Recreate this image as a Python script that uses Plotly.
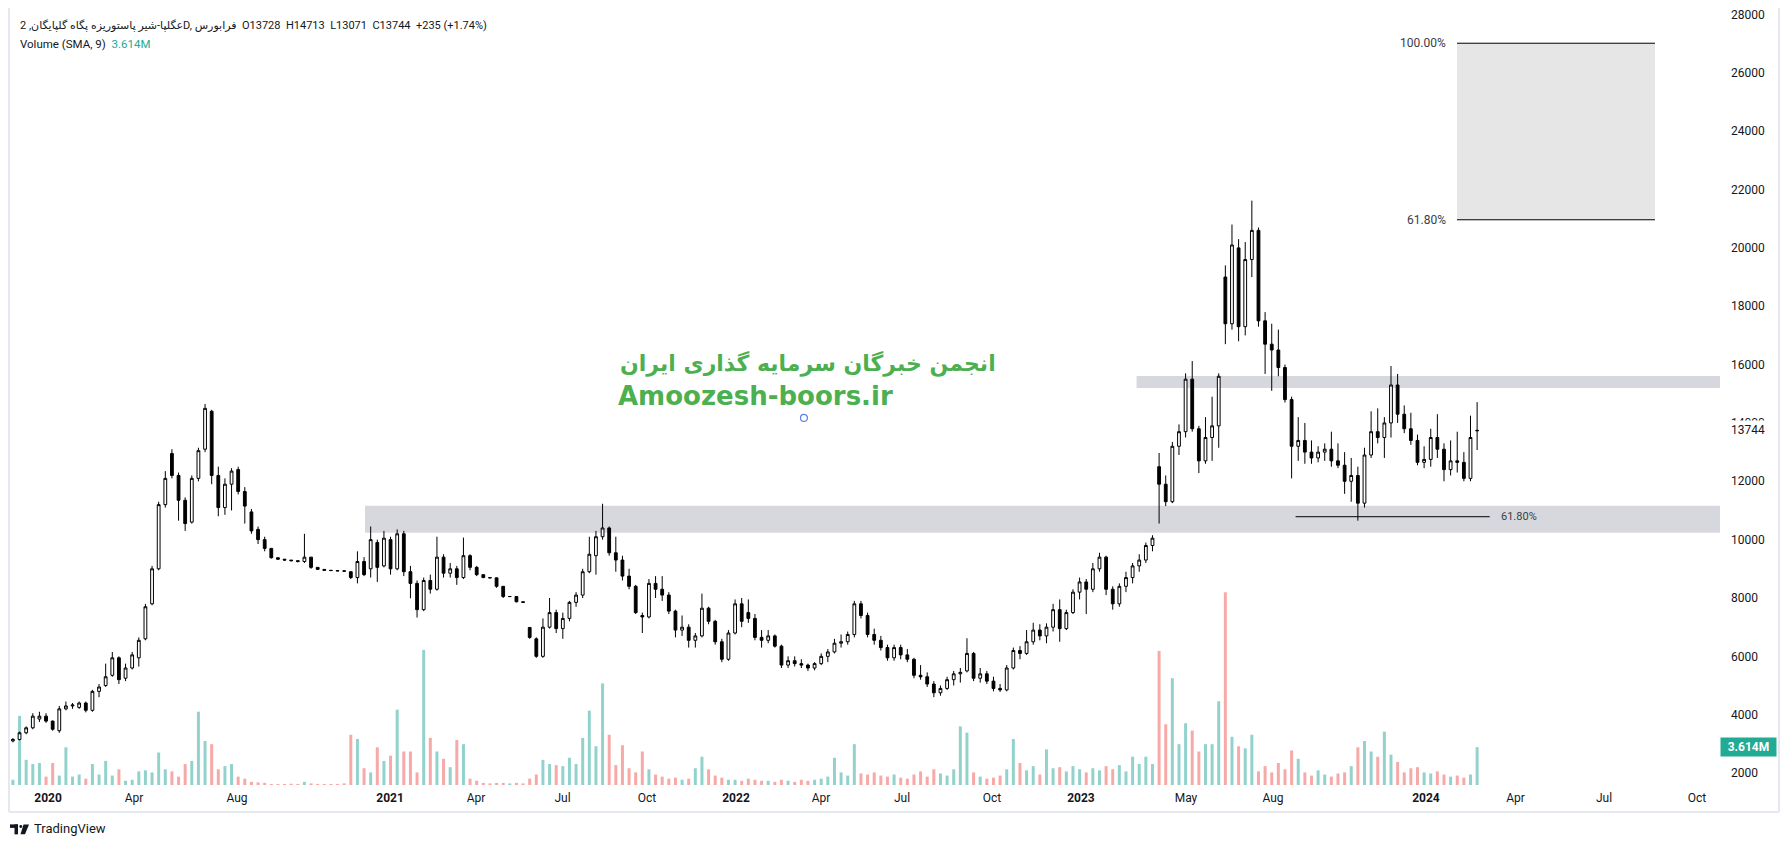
import plotly.graph_objects as go

opens = [3100, 3150, 3380, 3550, 3850, 3950, 3780, 3450, 4200, 4300,
         4250, 4400, 4150, 4800, 5000, 5350, 5950, 5250, 5600, 5950,
         6600, 7800, 9000, 11200, 12950, 12200, 11350, 10600, 12100, 13100,
         14400, 12200, 11100, 11900, 12400, 11650, 10950, 10350, 10000, 9700,
         9380, 9330, 9300, 9280, 9250, 9400, 9050, 8980, 8950, 8940,
         8930, 8900, 8700, 9250, 9000, 9900, 9100, 10000, 9000, 10200,
         8900, 8500, 7600, 8600, 8300, 9400, 8850, 9000, 8700, 9450,
         9050, 8800, 8700, 8690, 8400, 8050, 8050, 7870, 6990, 6600,
         6000, 7000, 7500, 6950, 7300, 7850, 8100, 8900, 9450, 10100,
         10400, 9550, 9300, 8750, 8400, 7400, 7350, 8500, 8300, 8100,
         7550, 6900, 7000, 6550, 6700, 7650, 7200, 6500, 5900, 6800,
         7800, 7500, 7300, 6650, 6550, 6700, 6350, 5700, 5850, 5750,
         5700, 5600, 5750, 6000, 6150, 6450, 6500, 6750, 7800, 7400,
         6750, 6550, 6300, 5950, 6300, 6050, 5900, 5350, 5300, 5050,
         4750, 4900, 5200, 5400, 5500, 6100, 5250, 5400, 5150, 4900,
         4850, 5600, 6200, 6100, 6500, 6900, 6700, 7000, 7600, 6950,
         7500, 8200, 8550, 8300, 9000, 9400, 8300, 7800, 8400, 8700,
         9100, 9300, 9800, 12500, 11900, 11300, 13200, 13700, 15500, 13800,
         12700, 13500, 13900, 19000, 17400, 20000, 17300, 19600, 20600, 17500,
         16700, 16500, 15900, 14800, 13200, 13400, 13000, 12800, 13000, 13100,
         12700, 12550, 12000, 12200, 11250, 12900, 13700, 13500, 14000, 15300,
         14300, 13800, 13400, 12650, 12750, 13500, 13100, 12400, 12700, 12650,
         12100, 13728]

highs = [3200, 3420, 3600, 4050, 4100, 4050, 3800, 4300, 4450, 4400,
         4450, 4450, 4850, 5050, 5750, 6150, 6000, 5750, 6150, 6650,
         7800, 9100, 11300, 12350, 13100, 12300, 11450, 12200, 13150, 14650,
         14450, 12500, 12100, 12450, 12500, 11800, 11050, 10450, 10100, 9700,
         9380, 9330, 9300, 9280, 10200, 9400, 9050, 8980, 8950, 8940,
         8930, 8900, 9600, 9400, 10450, 10000, 10300, 10100, 10350, 10300,
         9100, 8600, 8700, 8800, 10100, 9500, 9200, 9100, 10070, 9500,
         9100, 8800, 8700, 8700, 8400, 8050, 8050, 7870, 6990, 6650,
         7300, 8000, 7600, 7500, 7900, 8200, 9000, 10100, 10300, 11230,
         10450, 10100, 9450, 9000, 8450, 7500, 8650, 8750, 8750, 8200,
         7600, 7400, 7100, 6800, 8150, 7700, 7250, 6600, 6900, 7950,
         8000, 7950, 7450, 6900, 6900, 6750, 6400, 6000, 6000, 5900,
         5750, 5800, 6100, 6250, 6600, 6750, 6850, 7900, 7900, 7500,
         6950, 6700, 6400, 6400, 6400, 6250, 5950, 5700, 5450, 5150,
         5000, 5300, 5500, 5600, 6620, 6150, 5600, 5500, 5300, 5050,
         5700, 6300, 6350, 6900, 7150, 7100, 7130, 7800, 7950, 7600,
         8300, 8700, 8650, 9200, 9550, 9450, 8400, 8500, 8900, 9200,
         9500, 9900, 10150, 12970, 12200, 13350, 13950, 15700, 16120, 13900,
         14200, 14900, 15700, 19400, 20800, 20300, 20200, 21620, 20700, 17800,
         17400, 17200, 16000, 14900, 14200, 14000, 13400, 13200, 13300, 13700,
         13300, 13000, 12800, 12500, 13150, 14400, 14500, 14200, 15950, 15680,
         14600, 14350, 13600, 13200, 13800, 14300, 13300, 13400, 13700, 13000,
         14250, 14713]

lows = [3050, 3120, 3330, 3500, 3750, 3720, 3450, 3380, 4150, 4200,
        4200, 4080, 4100, 4600, 4950, 5300, 5050, 5150, 5550, 5650,
        6550, 7750, 8950, 11100, 12100, 10650, 10300, 10550, 12000, 13000,
        11900, 10800, 10850, 11000, 11550, 10550, 10200, 9850, 9600, 9350,
        9300, 9280, 9250, 9220, 9200, 9000, 8960, 8940, 8930, 8920,
        8900, 8650, 8500, 8750, 8700, 8550, 9050, 8800, 8950, 8750,
        7990, 7330, 7550, 8150, 8250, 8700, 8700, 8450, 8650, 8950,
        8750, 8680, 8680, 8350, 8000, 8030, 7850, 7840, 6600, 5950,
        5950, 6950, 6800, 6600, 7200, 7700, 8000, 8850, 8800, 10000,
        9450, 8900, 8600, 8300, 7450, 6800, 7300, 8000, 7900, 7450,
        6650, 6700, 6300, 6300, 6650, 7100, 6400, 5800, 5850, 6750,
        7000, 7150, 6550, 6300, 6450, 6300, 5600, 5600, 5650, 5600,
        5500, 5520, 5700, 5800, 6100, 6300, 6400, 6650, 7300, 6650,
        6400, 6200, 5850, 5850, 5900, 5800, 5250, 5200, 4950, 4600,
        4650, 4850, 5000, 5100, 5450, 5150, 5100, 5050, 4800, 4780,
        4800, 5550, 5900, 6050, 6400, 6550, 6450, 6850, 6500, 6900,
        7450, 7950, 7450, 8200, 8900, 8100, 7600, 7700, 8200, 8500,
        8900, 9200, 9600, 10550, 11150, 11250, 12900, 13500, 13700, 12280,
        12600, 12700, 13150, 16700, 17200, 16800, 17000, 19000, 17300, 15680,
        15100, 15600, 14700, 12100, 12700, 12600, 12600, 12650, 12700, 12500,
        12450, 11570, 11300, 10650, 11100, 12800, 13300, 12800, 13500, 14000,
        13650, 13250, 12550, 12450, 12500, 12800, 12000, 12200, 12300, 12000,
        12000, 13071]

closes = [3150, 3380, 3550, 3950, 3950, 3780, 3500, 4200, 4300, 4330,
          4400, 4150, 4800, 4950, 5300, 5950, 5200, 5600, 6050, 6550,
          7700, 9000, 11200, 12100, 12200, 11350, 10550, 12100, 13050, 14500,
          12200, 11100, 11900, 12350, 11650, 11150, 10300, 10000, 9700, 9380,
          9330, 9300, 9280, 9250, 9400, 9050, 8980, 8950, 8940, 8930,
          8920, 8700, 9250, 8800, 10000, 9050, 10050, 9000, 10200, 8900,
          8500, 7600, 8600, 8300, 9400, 8850, 9000, 8700, 9450, 9050,
          8800, 8700, 8690, 8400, 8050, 8050, 7870, 7850, 6650, 6000,
          7000, 7500, 6950, 7300, 7850, 8100, 8900, 9500, 10100, 10400,
          9550, 9300, 8750, 8400, 7500, 7350, 8500, 8300, 8100, 7550,
          6900, 7000, 6550, 6700, 7650, 7200, 6500, 5900, 6800, 7800,
          7200, 7300, 6650, 6550, 6700, 6350, 5700, 5850, 5750, 5700,
          5600, 5750, 6000, 6150, 6450, 6500, 6750, 7800, 7400, 6750,
          6550, 6300, 5950, 6300, 6050, 5900, 5350, 5300, 5050, 4750,
          4900, 5200, 5400, 5450, 6100, 5250, 5400, 5150, 4900, 4850,
          5600, 6200, 6100, 6500, 6900, 6700, 7000, 7600, 6950, 7500,
          8200, 8550, 8300, 9000, 9400, 8300, 7800, 8400, 8700, 9100,
          9300, 9800, 10050, 11900, 11300, 13200, 13700, 15500, 13800, 12700,
          13500, 13900, 15600, 17400, 20100, 17300, 19600, 20600, 17500, 16700,
          16500, 15900, 14800, 13200, 13400, 13000, 12800, 13000, 13100, 12700,
          12550, 12000, 12200, 11250, 12900, 13700, 13500, 14000, 15300, 14300,
          13800, 13400, 12650, 12750, 13500, 13100, 12400, 12700, 12650, 12100,
          13500, 13744]

volumes_m = [0.5, 6.6, 2.4, 2.0, 2.1, 0.8, 2.1, 0.9, 3.6, 0.8,
             1.0, 0.6, 2.0, 1.0, 2.3, 0.9, 1.5, 0.4, 0.5, 1.3,
             1.4, 1.2, 3.1, 1.5, 1.3, 0.8, 2.0, 2.3, 7.0, 4.2,
             3.9, 1.5, 1.8, 2.0, 0.8, 0.6, 0.3, 0.25, 0.2, 0.1,
             0.1, 0.1, 0.12, 0.1, 0.3, 0.15, 0.1, 0.1, 0.1, 0.1,
             0.15, 4.8, 4.4, 1.6, 1.2, 3.6, 2.3, 2.8, 7.2, 3.2,
             3.2, 1.2, 12.9, 4.5, 3.2, 2.5, 1.7, 4.3, 3.9, 0.6,
             0.4, 0.2, 0.15, 0.2, 0.2, 0.15, 0.2, 0.15, 0.6, 1.0,
             2.4, 2.0, 1.9, 1.8, 2.6, 2.0, 4.5, 7.1, 3.7, 9.7,
             4.8, 1.9, 3.8, 1.6, 1.2, 3.2, 1.5, 1.0, 0.8, 0.6,
             0.7, 0.5, 0.6, 1.6, 2.7, 1.5, 0.9, 0.7, 0.5, 0.5,
             0.4, 0.6, 0.5, 0.4, 0.4, 0.3, 0.5, 0.4, 0.3, 0.5,
             0.4, 0.5, 0.6, 0.8, 2.6, 1.2, 0.9, 3.9, 1.1, 1.0,
             1.2, 0.9, 0.8, 1.0, 0.7, 0.6, 1.0, 1.3, 0.8, 1.5,
             1.1, 0.9, 1.5, 5.6, 5.0, 1.2, 0.8, 0.6, 0.7, 0.9,
             1.5, 4.4, 2.1, 1.4, 1.8, 1.0, 3.4, 1.6, 1.7, 1.3,
             1.8, 1.5, 1.2, 1.6, 1.4, 1.8, 1.5, 1.9, 1.3, 2.7,
             2.0, 2.7, 2.0, 12.8, 5.8, 10.2, 3.9, 5.9, 5.2, 3.2,
             3.9, 3.9, 8.0, 18.4, 4.6, 3.7, 3.5, 4.8, 1.3, 1.8,
             1.2, 2.1, 1.5, 3.3, 2.5, 1.2, 0.9, 1.4, 1.0, 0.8,
             1.1, 1.2, 1.8, 3.6, 4.2, 3.2, 2.7, 5.1, 2.9, 2.2,
             1.2, 1.6, 1.7, 1.2, 1.1, 1.3, 1.0, 0.8, 0.9, 0.7,
             1.0, 3.614]

time_tick_labels = ["<b>2020</b>", "Apr", "Aug", "<b>2021</b>", "Apr", "Jul", "Oct",
                    "<b>2022</b>", "Apr", "Jul", "Oct", "<b>2023</b>", "May", "Aug",
                    "<b>2024</b>", "Apr", "Jul", "Oct"]
price_tick_values = list(range(2000, 28001, 2000))
price_tick_labels = [str(v) for v in price_tick_values]

support_zone = (10240, 11160)
resistance_zone = (15200, 15610)
fib_box = (20964, 27015)
fib_level_low = 10786
last_close = 13744
last_volume_m = 3.614

# ---------------- layout geometry / styling ----------------
# the page body adds an 8px offset, so the figure is drawn 8px smaller
OFF = 8
W, H = 1790 - OFF, 847 - OFF
ML, MR, MT, MB = 2, 70, 0, 62
PW, PH = W - ML - MR, H - MT - MB
# time-scale (bar index) positions for labels and drawings
time_tick_pos = [5.30, 18.28, 33.82, 56.92, 69.9, 82.95, 95.71, 109.14, 121.97,
                 134.2, 147.78, 161.2, 177.06, 190.19, 213.28, 226.79, 240.15, 254.19]
X_RANGE = [-0.44, 257.66]
PRICE_RANGE = [1590, 28154]
VOL_RANGE = [0, PH / 10.5]
zone1_start, zone2_start = 53.14, 169.6
fib_x0, fib_x1, fib_label_x = 217.96, 247.85, 216.6
fib_line_x0, fib_line_x1, fib_line_label_x = 193.6, 222.9, 224.3

FONT = "Roboto, 'Noto Sans', 'DejaVu Sans', sans-serif"
TXT = "#131722"
UP_VOL = "rgba(38,166,154,0.5)"
DN_VOL = "rgba(239,83,80,0.5)"
FRAME = "#e6e8ef"


def pxx(p):
    """reference-window pixel x -> paper x"""
    return (p - OFF - ML) / PW


def pxy(p):
    """reference-window pixel y -> paper y"""
    return 1 - (p - OFF - MT) / PH


idx = list(range(len(closes)))
vol_colors = [UP_VOL if c >= o else DN_VOL for o, c in zip(opens, closes)]

fig = go.Figure()
fig.add_trace(go.Bar(x=idx, y=volumes_m, marker=dict(color=vol_colors, line=dict(width=0)),
                     width=0.45, yaxis="y", hoverinfo="skip"))
fig.add_trace(go.Candlestick(
    x=idx, open=opens, high=highs, low=lows, close=closes, yaxis="y2",
    increasing=dict(fillcolor="#ffffff", line=dict(color="#000000", width=1)),
    decreasing=dict(fillcolor="#000000", line=dict(color="#000000", width=1)),
    whiskerwidth=0, hoverinfo="skip"))

shapes = [
    dict(type="rect", xref="x", yref="y2", x0=zone1_start, x1=X_RANGE[1],
         y0=support_zone[0], y1=support_zone[1], fillcolor="#d7d8dd", line=dict(width=0), layer="below"),
    dict(type="rect", xref="x", yref="y2", x0=zone2_start, x1=X_RANGE[1],
         y0=resistance_zone[0], y1=resistance_zone[1], fillcolor="#d7d8dd", line=dict(width=0), layer="below"),
    dict(type="rect", xref="x", yref="y2", x0=fib_x0, x1=fib_x1,
         y0=fib_box[0], y1=fib_box[1], fillcolor="#e6e6e6", line=dict(width=0), layer="below"),
    dict(type="line", xref="x", yref="y2", x0=fib_x0, x1=fib_x1, y0=fib_box[1], y1=fib_box[1],
         line=dict(color="#000000", width=1)),
    dict(type="line", xref="x", yref="y2", x0=fib_x0, x1=fib_x1, y0=fib_box[0], y1=fib_box[0],
         line=dict(color="#000000", width=1)),
    dict(type="line", xref="x", yref="y2", x0=fib_line_x0, x1=fib_line_x1, y0=fib_level_low, y1=fib_level_low,
         line=dict(color="#000000", width=1)),
    # outer frame: left, right, bottom edges
    dict(type="line", xref="paper", yref="paper", x0=pxx(9), x1=pxx(9), y0=pxy(812), y1=pxy(0),
         line=dict(color=FRAME, width=2)),
    dict(type="line", xref="paper", yref="paper", x0=pxx(1779), x1=pxx(1779), y0=pxy(812), y1=pxy(0),
         line=dict(color=FRAME, width=2)),
    dict(type="line", xref="paper", yref="paper", x0=pxx(9), x1=pxx(1779), y0=pxy(812), y1=pxy(812),
         line=dict(color=FRAME, width=2)),
    # small blue circle marker
    dict(type="circle", xref="paper", yref="paper", xsizemode="pixel", ysizemode="pixel",
         xanchor=pxx(804), yanchor=pxy(417), x0=-3.5, x1=3.5, y0=-3.5, y1=3.5,
         line=dict(color="#5b7ff0", width=1.2), fillcolor="rgba(0,0,0,0)"),
    # TradingView logo mark
    dict(type="rect", xref="paper", yref="paper", x0=pxx(10), x1=pxx(18), y0=pxy(828), y1=pxy(824.5),
         fillcolor=TXT, line=dict(width=0)),
    dict(type="rect", xref="paper", yref="paper", x0=pxx(14.5), x1=pxx(18), y0=pxy(834.5), y1=pxy(824.5),
         fillcolor=TXT, line=dict(width=0)),
    dict(type="circle", xref="paper", yref="paper", x0=pxx(19.3), x1=pxx(22.3), y0=pxy(828), y1=pxy(825),
         fillcolor=TXT, line=dict(width=0)),
    dict(type="path", xref="paper", yref="paper",
         path=f"M {pxx(23.5)},{pxy(824.5)} L {pxx(29)},{pxy(824.5)} L {pxx(25)},{pxy(834.5)} L {pxx(20.5)},{pxy(834.5)} Z",
         fillcolor=TXT, line=dict(width=0)),
]

annotations = [
    dict(xref="paper", yref="paper", x=pxx(18), y=pxy(24), xanchor="left", yanchor="middle",
         text="عگلپا-شیر پاستوریزه پگاه گلپایگان, 2D, فرابورس&nbsp;&nbsp;O13728&nbsp;&nbsp;H14713&nbsp;&nbsp;L13071&nbsp;&nbsp;C13744&nbsp;&nbsp;+235 (+1.74%)",
         showarrow=False, font=dict(family=FONT, size=11, color=TXT)),
    dict(xref="paper", yref="paper", x=pxx(18), y=pxy(42), xanchor="left", yanchor="middle",
         text="Volume (SMA, 9)&nbsp;&nbsp;<span style='color:#22ab94'>3.614M</span>",
         showarrow=False, font=dict(family=FONT, size=11.5, color=TXT)),
    dict(xref="paper", yref="paper", x=pxx(618), y=pxy(362), xanchor="left", yanchor="middle",
         text="<b>انجمن خبرگان سرمایه گذاری ایران</b>", showarrow=False,
         font=dict(family="'DejaVu Sans', 'Noto Sans', sans-serif", size=22, color="#4caf50")),
    dict(xref="paper", yref="paper", x=pxx(616), y=pxy(395), xanchor="left", yanchor="middle",
         text="<b>Amoozesh-boors.ir</b>", showarrow=False,
         font=dict(family="'DejaVu Sans', sans-serif", size=26, color="#4caf50")),
    dict(xref="x", yref="y2", x=fib_label_x, y=fib_box[1], xanchor="right", yanchor="middle",
         text="100.00%", showarrow=False, font=dict(family=FONT, size=12, color="#3a3d47")),
    dict(xref="x", yref="y2", x=fib_label_x, y=fib_box[0], xanchor="right", yanchor="middle",
         text="61.80%", showarrow=False, font=dict(family=FONT, size=12, color="#3a3d47")),
    dict(xref="x", yref="y2", x=fib_line_label_x, y=fib_level_low, xanchor="left", yanchor="middle",
         text="61.80%", showarrow=False, font=dict(family=FONT, size=11, color="#3a3d47")),
    dict(xref="paper", yref="y2", x=1, y=last_close, xanchor="left", yanchor="middle", xshift=8,
         text=f"{last_close}", showarrow=False, bgcolor="#ffffff", borderpad=2,
         font=dict(family=FONT, size=12, color=TXT)),
    dict(xref="paper", yref="y", x=1, y=last_volume_m, xanchor="left", yanchor="middle", xshift=0,
         text=f"<b>{last_volume_m}M</b>", showarrow=False, bgcolor="#22ab94", borderpad=2, width=51,
         font=dict(family=FONT, size=12, color="#ffffff")),
    dict(xref="paper", yref="paper", x=pxx(32), y=pxy(829), xanchor="left", yanchor="middle",
         text="TradingView", showarrow=False, font=dict(family=FONT, size=13, color=TXT)),
]

fig.update_layout(
    width=W, height=H, margin=dict(l=ML, r=MR, t=MT, b=MB),
    paper_bgcolor="#ffffff", plot_bgcolor="#ffffff", showlegend=False,
    boxgap=0.4,
    xaxis=dict(range=X_RANGE, tickmode="array", tickvals=time_tick_pos, ticktext=time_tick_labels,
               showgrid=False, zeroline=False, showline=False, ticks="",
               tickfont=dict(family=FONT, size=12, color=TXT), ticklabelstandoff=4,
               rangeslider=dict(visible=False), fixedrange=True),
    yaxis=dict(range=VOL_RANGE, visible=False, fixedrange=True),
    yaxis2=dict(range=PRICE_RANGE, overlaying="y", side="right", tickmode="array",
                tickvals=price_tick_values, ticktext=price_tick_labels, ticklabeloverflow="allow",
                showgrid=False, zeroline=False, showline=False, ticks="",
                tickfont=dict(family=FONT, size=12, color=TXT), ticklabelstandoff=10, fixedrange=True),
    shapes=shapes, annotations=annotations,
)

fig.write_html("out.html")
